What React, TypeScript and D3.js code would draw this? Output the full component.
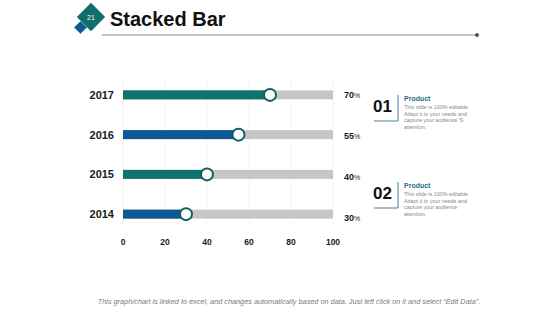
import * as d3 from 'd3';

const years = ['2017', '2016', '2015', '2014'];
const values = [70, 55, 40, 30];
const barColors = ['#0f746f', '#0b5a93', '#0f746f', '#0b5a93'];
const ticks = [0, 20, 40, 60, 80, 100];

const notes = [
  { num: '01', title: 'Product', lines: ['This slide is 100% editable.', 'Adapt it to your needs and', "capture your  audience 'S", 'attention.'] },
  { num: '02', title: 'Product', lines: ['This slide is 100% editable.', 'Adapt it to your needs and', 'capture your  audience', 'attention.'] },
];

const W = 560;
const H = 315;
const font = 'Arial, "Liberation Sans", Helvetica, sans-serif';

export default function App() {
  const x = d3.scaleLinear().domain([0, 100]).range([123, 333]);
  const y = d3.scaleBand().domain(years).range([75, 234]).paddingInner(0).paddingOuter(0);
  const barH = 9;

  return (
    <svg width={W} height={H} style={{ position: 'absolute', left: 0, top: 0 }} fontFamily={font}>
      <rect width={W} height={H} fill="#fff" />

      {/* header badge */}
      <rect x={76} y={23} width={9} height={9} fill="#0b5a93" transform="rotate(45 80.5 27.5)" />
      <rect x={81} y={7} width={20} height={20} fill="#0f6e6a" transform="rotate(45 91 17)" />
      <text x={91} y={20} fontSize={7} fill="#fff" textAnchor="middle">21</text>
      <text x={110} y={26} fontSize={20} fontWeight="bold" fill="#111">Stacked Bar</text>
      <line x1={102} x2={477} y1={35} y2={35} stroke="#8a8a8a" strokeWidth={1} />
      <circle cx={477} cy={35} r={2} fill="#555" />

      {/* faint grid */}
      {ticks.map((t) => (
        <line key={t} x1={x(t)} x2={x(t)} y1={80} y2={228} stroke="#f5f5f5" strokeWidth={1} />
      ))}

      {years.map((yr, i) => {
        const cy = (y(yr) ?? 0) + y.bandwidth() / 2;
        return (
          <g key={yr}>
            <text x={114} y={cy + 4} fontSize={11} fontWeight="bold" textAnchor="end" fill="#1a1a1a">{yr}</text>
            <rect x={x(0)} y={cy - barH / 2} width={x(100) - x(0)} height={barH} fill="#c6c6c6" />
            <rect x={x(0)} y={cy - barH / 2} width={x(values[i]) - x(0)} height={barH} fill={barColors[i]} />
            <circle cx={x(values[i])} cy={cy} r={6} fill="#fff" stroke="#0e5f62" strokeWidth={2} />
            <text x={344} y={cy + 3 + i * 1.2} fontSize={9} fontWeight="bold" fill="#1a1a1a">
              {values[i]}
              <tspan fontSize={7} fontWeight="normal">%</tspan>
            </text>
          </g>
        );
      })}

      {ticks.map((t) => (
        <text key={t} x={x(t)} y={245} fontSize={8.5} fontWeight="bold" textAnchor="middle" fill="#1a1a1a">{t}</text>
      ))}

      {/* side notes */}
      {notes.map((n, k) => {
        const top = 95 + k * 87;
        return (
          <g key={n.num}>
            <text x={373} y={top + 17} fontSize={17} fontWeight="bold" fill="#111">{n.num}</text>
            <polyline points={`374,${top + 26} 398,${top + 26} 398,${top}`} fill="none" stroke="#4d7c93" strokeWidth={1} />
            <text x={404} y={top + 6} fontSize={7} fontWeight="bold" fill="#2d6a8c">{n.title}</text>
            {n.lines.map((l, j) => (
              <text key={j} x={404} y={top + 14 + j * 6.6} fontSize={5.4} fill="#8a8a8a">{l}</text>
            ))}
          </g>
        );
      })}

      <text x={289} y={304} fontSize={7.3} fontStyle="italic" fill="#7a7a7a" textAnchor="middle">
        This graph/chart is linked to excel, and changes automatically based on data. Just left click on it and select “Edit Data”.
      </text>
    </svg>
  );
}
